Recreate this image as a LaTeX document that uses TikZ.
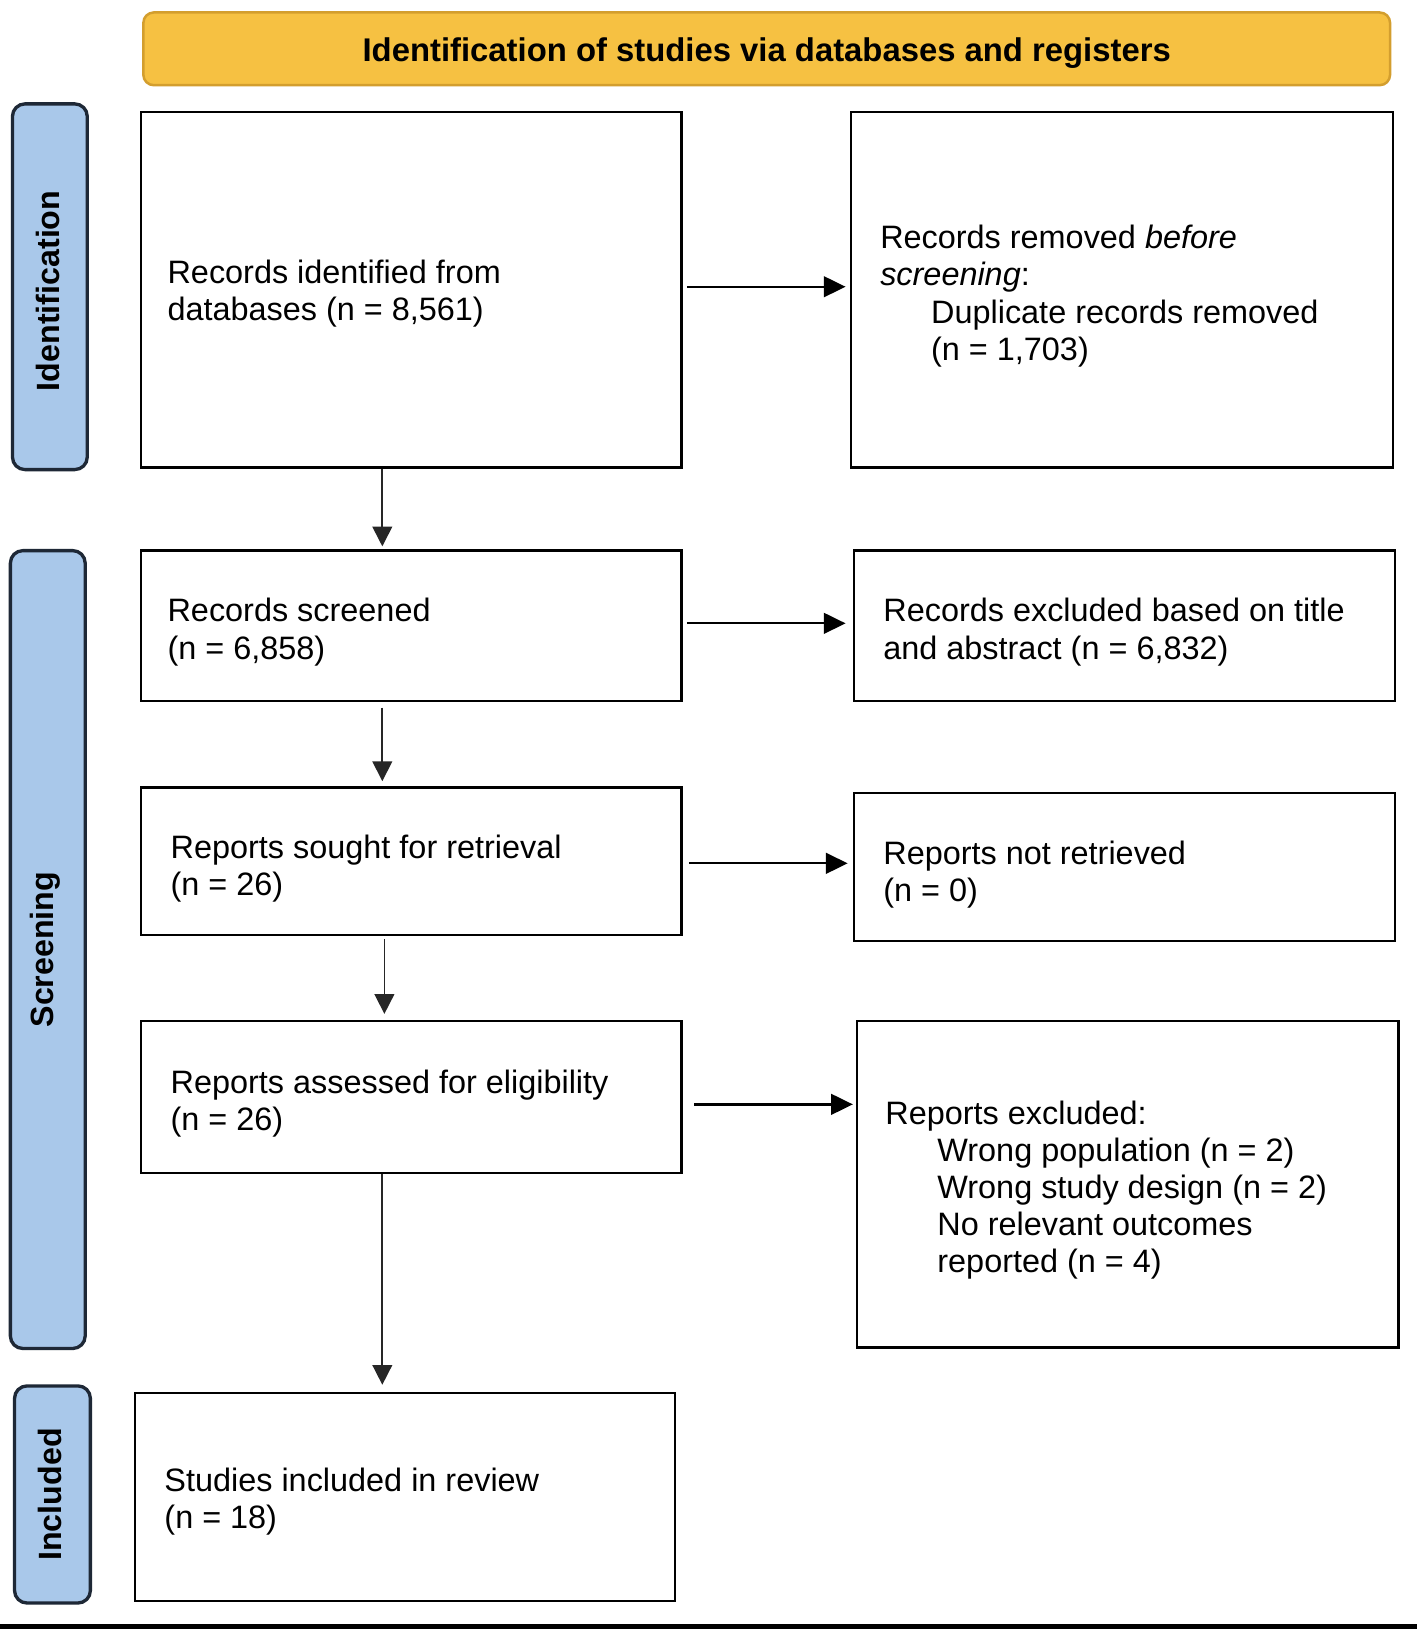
\documentclass[tikz,border=0pt]{standalone}
\usepackage{fontspec}
\setmainfont{Liberation Sans}
\usetikzlibrary{arrows.meta}
\definecolor{bannerfill}{HTML}{F6C142}
\definecolor{bannerdraw}{HTML}{D39E2E}
\definecolor{sidefill}{HTML}{A9C8EA}
\definecolor{sidedraw}{HTML}{1E2836}
\begin{document}
\begin{tikzpicture}[x=0.5pt,y=-0.5pt,
  box/.style={draw=black, line width=1.1pt, fill=white, inner sep=0pt},
  txt/.style={inner sep=0pt, align=left, anchor=west, font=\fontsize{15.6}{17.9}\selectfont},
  side/.style={draw=sidedraw, fill=sidefill, line width=1.6pt, rounded corners=6pt, inner sep=0pt},
  sidetxt/.style={rotate=90, inner sep=0pt, font=\fontsize{15.5}{18}\selectfont\bfseries},
  banner/.style={draw=bannerdraw, fill=bannerfill, line width=1.2pt, rounded corners=5pt, inner sep=0pt},
  bannertxt/.style={inner sep=0pt, font=\fontsize{15.8}{18}\selectfont\bfseries},
  arrh/.style={-{Triangle[length=10.5pt,width=10pt]}, line width=1.1pt},
  arrv/.style={-{Triangle[length=9.5pt,width=9.5pt]}, line width=0.8pt, draw=black!85}]
\useasboundingbox (0,0) rectangle (1364,1568);
\fill[white] (0,0) rectangle (1364,1568);

% banner
\node[banner, minimum width=600pt, minimum height=35pt] (ban) at (738,47) {};
\node[bannertxt] (bant) at ([yshift=-2pt]ban.center)
  {Identification of studies via databases and registers};

% side labels
\node[side, minimum width=36pt, minimum height=176pt] (sid) at (48,276) {};
\node[sidetxt] (sidt) at ([xshift=-1pt,yshift=-2pt]sid.center) {Identification};
\node[side, minimum width=36pt, minimum height=384pt] (sscr) at (46,914) {};
\node[sidetxt] (sscrt) at ([xshift=-1pt]sscr.center) {Screening};
\node[side, minimum width=36.5pt, minimum height=104.5pt] (sinc) at (50.5,1438.5) {};
\node[sidetxt] (sinct) at ([xshift=-1pt]sinc.center) {Included};

% boxes
\node[box, minimum width=260pt, minimum height=171pt] (A) at (396,279) {};
\node[box, minimum width=261pt, minimum height=171pt] (B) at (1080,279) {};
\node[box, minimum width=260pt, minimum height=72.5pt] (C) at (396,602.5) {};
\node[box, minimum width=260.5pt, minimum height=72.5pt] (D) at (1082.5,602.5) {};
\node[box, minimum width=260pt, minimum height=71pt] (E) at (396,829) {};
\node[box, minimum width=260.5pt, minimum height=71.5pt] (F) at (1082.5,834.5) {};
\node[box, minimum width=260pt, minimum height=73pt] (G) at (396,1056) {};
\node[box, minimum width=260.5pt, minimum height=157pt] (H) at (1085.5,1140) {};
\node[box, minimum width=260pt, minimum height=100pt] (I) at (390,1441) {};

% texts
\node[txt] (At) at ([xshift=13pt,yshift=-2pt]A.west) {Records identified from\\databases (n = 8,561)};
\node[txt] (Bt) at ([xshift=14.5pt,yshift=-3pt]B.west) {Records removed \textit{before}\\\textit{screening}:\\\hspace*{24.5pt}Duplicate records removed\\\hspace*{24.5pt}(n = 1,703)};
\node[txt] (Ct) at ([xshift=13pt,yshift=-3pt]C.west) {Records screened\\(n = 6,858)};
\node[txt] (Dt) at ([xshift=14.5pt,yshift=-3pt]D.west) {Records excluded based on title\\and abstract (n = 6,832)};
\node[txt] (Et) at ([xshift=14.5pt,yshift=-3.5pt]E.west) {Reports sought for retrieval\\(n = 26)};
\node[txt] (Ft) at ([xshift=14.5pt,yshift=-3.5pt]F.west) {Reports not retrieved\\(n = 0)};
\node[txt] (Gt) at ([xshift=14.5pt,yshift=-3.2pt]G.west) {Reports assessed for eligibility\\(n = 26)};
\node[txt] (Ht) at ([xshift=14pt,yshift=-2.8pt]H.west) {Reports excluded:\\\hspace*{25pt}Wrong population (n = 2)\\\hspace*{25pt}Wrong study design (n = 2)\\\hspace*{25pt}No relevant outcomes\\\hspace*{25pt}reported (n = 4)};
\node[txt] (It) at ([xshift=14.5pt,yshift=-2pt]I.west) {Studies included in review\\(n = 18)};

% connectors
\coordinate (cx) at (368,0);
\draw[arrv] (A.south -| cx) -- ([yshift=1.5pt]C.north -| cx);
\draw[arrv] ([yshift=-2.5pt]C.south -| cx) -- ([yshift=2.5pt]E.north -| cx);
\draw[arrv] ([yshift=-1.5pt,xshift=1pt]E.south -| cx) -- ([yshift=3pt,xshift=1pt]G.north -| cx);
\draw[arrv] (G.south -| cx) -- ([yshift=3.5pt]I.north -| cx);

\draw[arrh] ([xshift=2pt,yshift=1.5pt]A.east) -- ([xshift=-2pt,yshift=1.5pt]A.east -| B.west);
\draw[arrh] ([xshift=2pt,yshift=1.25pt]C.east) -- ([xshift=-3.5pt,yshift=1.25pt]C.east -| D.west);
\draw[arrh] ([xshift=3pt,yshift=-1pt]E.east) -- ([xshift=-2.5pt,yshift=-1pt]E.east -| F.west);
\draw[arrh] ([xshift=5.5pt,yshift=-3.5pt]G.east) -- ([xshift=-1.5pt,yshift=-3.5pt]G.east -| H.west);

% bottom rule
\fill[black] (0,1563) rectangle (1364,1568);
\end{tikzpicture}
\end{document}
